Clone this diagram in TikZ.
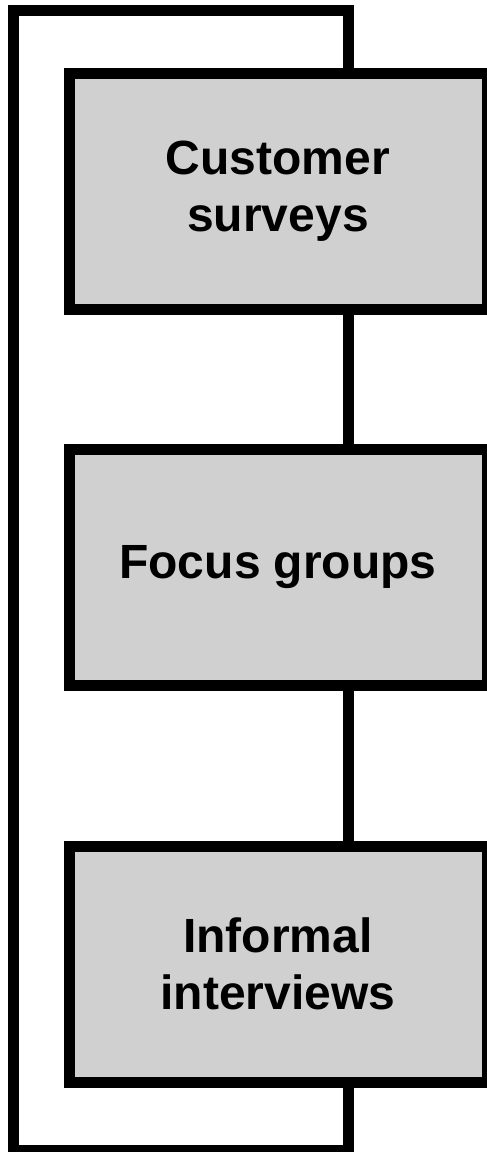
\documentclass[tikz,border=0pt]{standalone}
\usepackage{fontspec}
\setmainfont{Liberation Sans}
\definecolor{boxgray}{HTML}{D0D0D0}
\begin{document}
\begin{tikzpicture}[x=0.5pt,y=-0.5pt,
  methodbox/.style={draw, line width=5.5pt, fill=boxgray, minimum width=209pt,
    minimum height=118pt, align=center, inner sep=0pt,
    font=\fontsize{24}{28.5}\selectfont\bfseries},
  link/.style={line width=5.5pt}]
\useasboundingbox (0,0) rectangle (487,1152);
% 方框
\node[methodbox] (surveys) at (278,191) {Customer\\surveys};
\node[methodbox] (groups) at (278,567.5) {Focus groups};
\node[methodbox] (interviews) at (278,964) {Informal\\interviews};
% 外框
\coordinate (loopTL) at (13.5,10.5);
\coordinate (loopBR) at (348.5,1150);
\draw[link] (surveys.north -| loopBR) |- (loopTL) |- (loopBR) -- (interviews.south -| loopBR);
% 连线
\draw[link] (surveys.south -| loopBR) -- (groups.north -| loopBR);
\draw[link] (groups.south -| loopBR) -- (interviews.north -| loopBR);
\end{tikzpicture}
\end{document}
